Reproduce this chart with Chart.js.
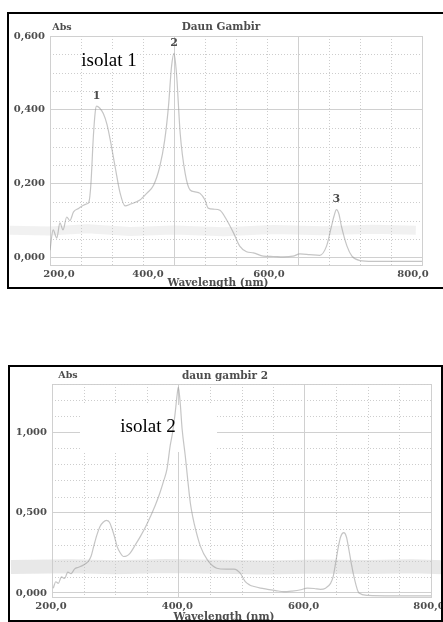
<!DOCTYPE html>
<html>
<head>
<meta charset="utf-8">
<script src="https://cdn.jsdelivr.net/npm/chart.js@4.4.1/dist/chart.umd.min.js"></script>
<style>
html, body { margin: 0; padding: 0; background: #fff; }
body { width: 443px; height: 622px; position: relative; overflow: hidden; }
canvas { position: absolute; left: 0; }
.frame { position: absolute; box-sizing: border-box; border: 0 solid #000; pointer-events: none; z-index: 3; }
.t { position: absolute; transform: translate(-50%, -50%); white-space: nowrap; font-family: "DejaVu Serif", serif; font-weight: bold; color: #4d4d4d; z-index: 2; line-height: 1; }
.iso { position: absolute; transform: translate(-50%, -50%); white-space: nowrap; font-family: "Liberation Serif", "Times New Roman", serif; font-size: 19px; color: #000; z-index: 2; line-height: 1; }
</style>
</head>
<body>
<canvas id="c1" width="443" height="300" style="top:0"></canvas>
<canvas id="c2" width="443" height="292" style="top:330px"></canvas>

<div class="frame" style="left:7px;top:12px;width:440px;height:277px;border-left-width:2px;border-top-width:2px;border-bottom-width:2px"></div>
<div class="frame" style="left:8px;top:365px;width:435px;height:257px;border-width:2px"></div>

<div class="t" style="left:62px;top:27px;font-size:9.5px">Abs</div>
<div class="t" style="left:221px;top:26px;font-size:10.5px">Daun Gambir</div>
<div class="iso" style="left:109px;top:59px;background:#fff">isolat 1</div>
<div class="t" style="left:218px;top:282px;font-size:10.5px">Wavelength (nm)</div>

<div class="t" style="left:68px;top:375px;font-size:9.5px">Abs</div>
<div class="t" style="left:225px;top:375px;font-size:10.5px">daun gambir 2</div>
<div class="iso" style="left:148px;top:425px">isolat 2</div>
<div class="t" style="left:224px;top:616px;font-size:10.5px">Wavelength (nm)</div>

<script>
// ---- isolat 1 (Daun Gambir) ----
const wl1 = [200,205,211,216,221,227,232,238,246,254,260,263,266,270,273,275,280,286,292,297,
             305,313,321,330,345,356,367,377,385,391,396,400,404,410,418,426,434,442,450,455,
             465,474,485,496,506,517,528,544,560,576,592,603,619,635,646,654,658,662,666,670,
             679,687,700,720,760,800];
const abs1 = [0.020,0.075,0.053,0.094,0.075,0.110,0.100,0.124,0.133,0.142,0.146,0.152,0.200,0.330,0.395,0.410,0.405,0.390,0.360,0.320,
              0.246,0.175,0.140,0.145,0.156,0.174,0.196,0.246,0.318,0.408,0.517,0.553,0.499,0.336,0.228,0.183,0.178,0.174,0.156,0.134,
              0.131,0.128,0.102,0.067,0.031,0.016,0.013,0.004,0.003,0.002,0.004,0.010,0.008,0.006,0.031,0.085,0.112,0.130,0.118,0.085,
              0.031,0.004,-0.008,-0.010,-0.010,-0.010];
const peaks1 = [275, 400, 662];
const peakNames1 = ['1', '2', '3'];
// faint baseline trace
const baseWl1 = [135, 200, 260, 330, 400, 480, 560, 640, 720, 790];
const baseAbs1 = [0.074, 0.072, 0.078, 0.071, 0.075, 0.070, 0.076, 0.073, 0.077, 0.074];
const yLabels1 = [0, 0.2, 0.4, 0.6];

// ---- isolat 2 (daun gambir 2) ----
const wl2 = [202,206,210,215,220,225,230,236,242,248,254,258,262,266,271,276,281,286,291,295,
             299,303,308,313,318,324,332,340,348,356,364,371,377,382,387,391,395,398,400,403,
             406,411,415,419,423,427,435,446,461,475,488,498,506,513,520,530,541,554,567,580,
             594,604,615,625,633,641,645,649,653,657,662,666,670,674,678,686,700,740,800];
const abs2 = [0.03,0.07,0.06,0.10,0.09,0.13,0.12,0.15,0.16,0.17,0.185,0.20,0.23,0.29,0.36,0.414,0.44,0.452,0.44,0.40,
              0.35,0.29,0.25,0.227,0.23,0.25,0.30,0.352,0.41,0.477,0.55,0.625,0.70,0.77,0.914,1.0,1.12,1.23,1.28,1.18,
              1.02,0.852,0.70,0.56,0.47,0.40,0.29,0.206,0.154,0.148,0.148,0.123,0.07,0.05,0.04,0.03,0.023,0.015,0.008,0.012,
              0.02,0.03,0.028,0.023,0.03,0.06,0.10,0.186,0.28,0.35,0.375,0.35,0.27,0.18,0.102,0.0,-0.015,-0.018,-0.018];
const baseWl2 = [135, 230, 300, 380, 460, 540, 620, 700, 770, 822];
const baseAbs2 = [0.162, 0.166, 0.160, 0.168, 0.163, 0.158, 0.165, 0.161, 0.166, 0.160];
const yLabels2 = [0, 0.5, 1.0];

const xLabels = [200, 400, 600, 800];

const tickFont = { family: '"DejaVu Serif", serif', weight: 'bold', size: 10 };
const textColor = '#4d4d4d';
const traceColor = 'rgba(150,150,150,0.55)';
const gridMajor = '#d0d0d0';
const gridMinor = '#cdcdcd';

function steps(from, to, step) {
  const out = [];
  const n = Math.round((to - from) / step);
  for (let i = 0; i <= n; i++) out.push(Math.round((from + i * step) * 1000) / 1000);
  return out;
}
const isIn = (list, v) => list.some(m => Math.abs(m - v) < 1e-6);
const fmtY = v => v.toFixed(3).replace('.', ',');
const fmtX = v => v.toFixed(1).replace('.', ',');

// dotted minor grid, label box, x tick labels and peak numbers, all placed through the scales
const annotate = {
  id: 'annotate',
  beforeDatasetsDraw(chart, args, o) {
    const { ctx, chartArea: a, scales: { x, y } } = chart;
    ctx.save();
    ctx.strokeStyle = gridMinor;
    ctx.lineWidth = 1;
    ctx.setLineDash([1, 2]);
    ctx.beginPath();
    x.ticks.forEach(t => {
      if (isIn(xLabels, t.value)) return;
      const px = Math.round(x.getPixelForValue(t.value)) + 0.5;
      ctx.moveTo(px, a.top); ctx.lineTo(px, a.bottom);
    });
    y.ticks.forEach(t => {
      if (isIn(o.yMajor, t.value) || t.value < 0) return;
      const py = Math.round(y.getPixelForValue(t.value)) + 0.5;
      ctx.moveTo(a.left, py); ctx.lineTo(a.right, py);
    });
    ctx.stroke();
    ctx.setLineDash([]);
    if (o.box) {
      ctx.fillStyle = '#fff';
      ctx.fillRect(o.box[0], o.box[1], o.box[2], o.box[3]);
    }
    ctx.restore();
  },
  afterDraw(chart, args, o) {
    const { ctx, scales: { x, y } } = chart;
    ctx.save();
    ctx.font = 'bold 10px "DejaVu Serif", serif';
    ctx.fillStyle = textColor;
    ctx.textAlign = 'center';
    ctx.textBaseline = 'middle';
    o.labels.forEach((v, i) => {
      ctx.fillText(fmtX(v), x.getPixelForValue(v) + o.shift[i], chart.chartArea.bottom + o.labelGap);
    });
    ctx.font = 'bold 11px "DejaVu Serif", serif';
    (o.peaks || []).forEach((p, i) => {
      const val = o.ys[o.xs.indexOf(p)];
      ctx.fillText(o.peakNames[i], x.getPixelForValue(p), y.getPixelForValue(val) - 10);
    });
    ctx.restore();
  }
};

function makeChart(id, cfg) {
  const none = 'rgba(0,0,0,0)';
  return new Chart(document.getElementById(id), {
    type: 'line',
    data: {
      datasets: [
        {
          data: cfg.wl.map((w, i) => ({ x: w, y: cfg.abs[i] })),
          borderColor: traceColor, borderWidth: 1.2, pointRadius: 0,
          cubicInterpolationMode: 'monotone', fill: false, order: 1
        },
        {
          data: cfg.baseWl.map((w, i) => ({ x: w, y: cfg.baseAbs[i] })),
          borderColor: cfg.baseColor, borderWidth: cfg.baseWidth, pointRadius: 0,
          tension: 0, fill: false, clip: false, order: 2
        }
      ]
    },
    options: {
      responsive: false, animation: false, events: [],
      devicePixelRatio: 1,
      layout: { padding: cfg.padding },
      plugins: {
        legend: { display: false }, tooltip: { enabled: false },
        annotate: {
          labels: xLabels, shift: cfg.shift, labelGap: cfg.labelGap, yMajor: cfg.yLabels,
          peaks: cfg.peaks, peakNames: cfg.peakNames, xs: cfg.wl, ys: cfg.abs, box: cfg.box
        }
      },
      scales: {
        x: {
          type: 'linear', min: 200, max: 800,
          afterBuildTicks: s => { s.ticks = steps(200, 800, 50).map(v => ({ value: v })); },
          afterFit: s => { s.height = cfg.xHeight; },
          ticks: { display: false },
          grid: { drawTicks: false, color: c => isIn(xLabels, c.tick.value) ? gridMajor : none, lineWidth: 1 },
          border: { color: gridMajor }
        },
        y: {
          type: 'linear', min: cfg.yMin, max: cfg.yMax,
          afterBuildTicks: s => { s.ticks = [cfg.yMin].concat(steps(0, cfg.yMax, cfg.yStep)).map(v => ({ value: v })); },
          afterFit: s => { s.width = cfg.yWidth; },
          ticks: {
            padding: 5, font: tickFont, color: textColor, autoSkip: false,
            callback: v => isIn(cfg.yLabels, v) ? fmtY(v) : ''
          },
          grid: {
            drawTicks: false, lineWidth: 1,
            color: c => (isIn(cfg.yLabels, c.tick.value) || Math.abs(c.tick.value - cfg.yMax) < 1e-6) ? gridMajor : none
          },
          border: { color: gridMajor }
        }
      }
    },
    plugins: [annotate]
  });
}

makeChart('c1', {
  wl: wl1, abs: abs1, baseWl: baseWl1, baseAbs: baseAbs1,
  baseColor: 'rgba(200,200,200,0.25)', baseWidth: 9,
  peaks: peaks1, peakNames: peakNames1,
  yMin: -0.02, yMax: 0.6, yStep: 0.05, yLabels: yLabels1,
  padding: { top: 36, right: 21, left: 0, bottom: 0 },
  yWidth: 50, xHeight: 35, labelGap: 9, shift: [9, -26, -29, -9]
});

makeChart('c2', {
  wl: wl2, abs: abs2, baseWl: baseWl2, baseAbs: baseAbs2,
  baseColor: 'rgba(200,200,200,0.42)', baseWidth: 14,
  yMin: -0.025, yMax: 1.3, yStep: 0.1, yLabels: yLabels2,
  padding: { top: 54, right: 12, left: 0, bottom: 0 },
  yWidth: 52, xHeight: 25, labelGap: 9, shift: [-1, -1, -1, -2],
  box: [80, 75, 137, 47]
});
</script>
</body>
</html>
